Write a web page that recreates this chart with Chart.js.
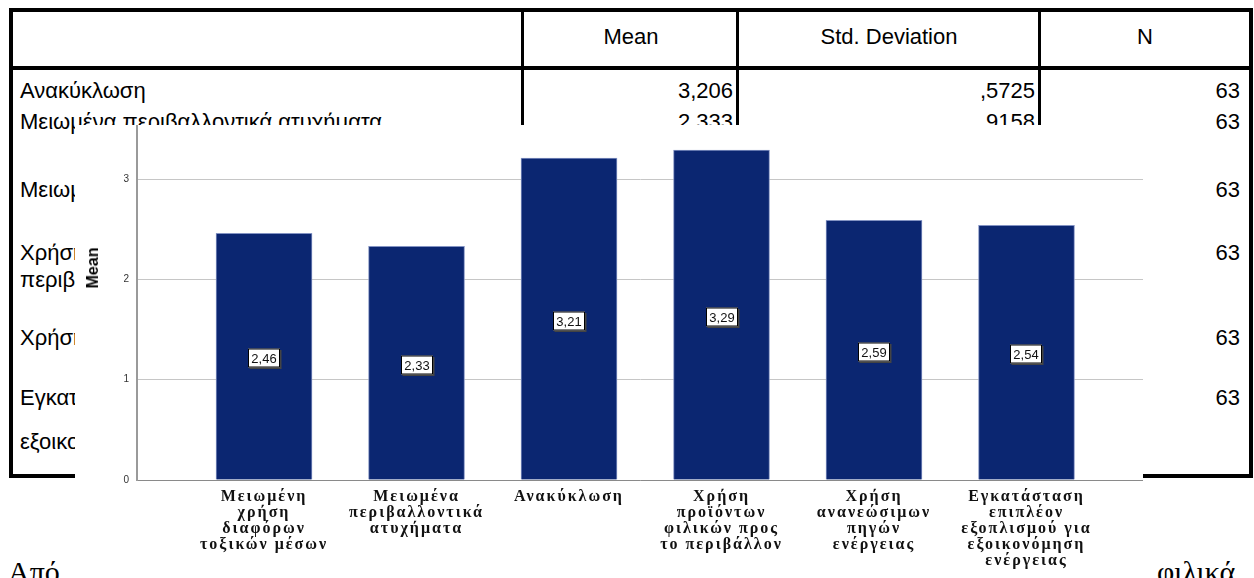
<!DOCTYPE html>
<html lang="el">
<head>
<meta charset="UTF-8">
<title>Mean</title>
<script src="https://cdn.jsdelivr.net/npm/chart.js@4"></script>
<style>
  html, body { margin: 0; padding: 0; background: #fff; }
  #page { position: relative; width: 1254px; height: 578px; overflow: hidden; font-family: "Liberation Sans", Arial, sans-serif; color: #000; }
  .cell { position: absolute; font-size: 22px; line-height: 24px; white-space: nowrap; }
  .line { position: absolute; background: #000; }
  .para { position: absolute; font-family: "Liberation Serif", "Times New Roman", serif; font-size: 30px; line-height: 30px; white-space: nowrap; }
  #overlay { position: absolute; left: 75px; top: 125px; width: 1068px; height: 453px; background: #fff; }
  #chartBox { position: absolute; left: 75px; top: 125px; width: 1068px; height: 453px; }
  #yTitle { position: absolute; left: 93px; top: 268px; transform: translate(-50%, -50%) rotate(-90deg); font-weight: bold; font-size: 16px; white-space: nowrap; }
</style>
</head>
<body>
<div id="page">
  <div id="table"></div>
  <div class="para" style="left:8px; top:557px;">Από</div>
  <div class="para" style="left:1157px; top:557px;">φιλικά</div>
  <div id="overlay"></div>
  <div id="chartBox"><canvas id="chart" width="1068" height="453"></canvas></div>
  <div id="yTitle">Mean</div>
</div>

<script>
// donnees du tableau (en arriere-plan)
const headerCols = ['', 'Mean', 'Std. Deviation', 'N'];
const rowLabels = [
  ['Ανακύκλωση'],
  ['Μειωμένα περιβαλλοντικά ατυχήματα'],
  ['Μειωμένη χρήση διαφόρων τοξικών μέσων'],
  ['Χρήση προϊόντων φιλικών προς το', 'περιβάλλον'],
  ['Χρήση ανανεώσιμων πηγών ενέργειας'],
  ['Εγκατάσταση επιπλέον εξοπλισμού για', 'εξοικονόμηση ενέργειας']
];
const rowMeans = ['3,206', '2,333', '', '', '', ''];
const rowSDs = [',5725', ',9158', '', '', '', ''];
const rowNs = ['63', '63', '63', '63', '63', '63'];

// donnees du graphique
const categories = [
  ['Μειωμένη', 'χρήση', 'διαφόρων', 'τοξικών μέσων'],
  ['Μειωμένα', 'περιβαλλοντικά', 'ατυχήματα'],
  ['Ανακύκλωση'],
  ['Χρήση', 'προϊόντων', 'φιλικών προς', 'το περιβάλλον'],
  ['Χρήση', 'ανανεώσιμων', 'πηγών', 'ενέργειας'],
  ['Εγκατάσταση', 'επιπλέον', 'εξοπλισμού για', 'εξοικονόμηση', 'ενέργειας']
];
const means = [2.46, 2.33, 3.21, 3.29, 2.59, 2.54];
const yTicks = [0, 1, 2, 3];

// --- tableau ---
const table = document.getElementById('table');
function addLine(x, y, w, h) {
  const d = document.createElement('div');
  d.className = 'line';
  d.style.cssText = `left:${x}px;top:${y}px;width:${w}px;height:${h}px;`;
  table.appendChild(d);
}
function addText(txt, y, align, x) {
  const d = document.createElement('div');
  d.className = 'cell';
  d.textContent = txt;
  if (align === 'left') d.style.cssText = `left:${x}px;top:${y - 12}px;`;
  if (align === 'center') d.style.cssText = `left:${x - 200}px;width:400px;text-align:center;top:${y - 12}px;`;
  if (align === 'right') d.style.cssText = `left:${x - 300}px;width:300px;text-align:right;top:${y - 12}px;`;
  table.appendChild(d);
}
// cadre
addLine(9, 8, 1244, 4);
addLine(9, 474, 1244, 4);
addLine(9, 8, 4, 470);
addLine(1249, 8, 4, 470);
addLine(9, 66, 1244, 4);
addLine(521, 8, 3, 470);
addLine(736, 8, 3, 470);
addLine(1038, 8, 3, 470);

const colCenters = [0, 631, 889, 1145];
headerCols.forEach((h, i) => { if (h) addText(h, 37, 'center', colCenters[i]); });

const rowY = [91, 122, 190, 253, 338, 398];
const secondLineGap = [0, 0, 0, 27, 0, 44];
rowLabels.forEach((lines, r) => {
  lines.forEach((t, k) => addText(t, rowY[r] + k * secondLineGap[r], 'left', 20));
  addText(rowMeans[r], rowY[r], 'right', 733);
  addText(rowSDs[r], rowY[r], 'right', 1035);
  addText(rowNs[r], rowY[r], 'right', 1240);
});

// --- graphique ---
const valueLabels = {
  id: 'valueLabels',
  afterDatasetsDraw(chart) {
    const ctx = chart.ctx;
    const meta = chart.getDatasetMeta(0);
    ctx.save();
    ctx.font = '13px "Liberation Sans", Arial, sans-serif';
    ctx.textAlign = 'center';
    ctx.textBaseline = 'middle';
    meta.data.forEach((bar, i) => {
      const txt = means[i].toFixed(2).replace('.', ',');
      const cx = Math.round(bar.x), cy = Math.round((bar.y + bar.base) / 2 + 2);
      const w = 32, h = 19;
      ctx.fillStyle = '#444';
      ctx.fillRect(cx - w / 2 + 1.5, cy - h / 2 + 1.5, w, h);
      ctx.fillStyle = '#fff';
      ctx.fillRect(cx - w / 2, cy - h / 2, w, h);
      ctx.strokeStyle = '#000';
      ctx.lineWidth = 1;
      ctx.strokeRect(cx - w / 2 + 0.5, cy - h / 2 + 0.5, w - 1, h - 1);
      ctx.fillStyle = '#111';
      ctx.fillText(txt, cx, cy + 1);
    });
    ctx.restore();
    // etiquettes de l'axe x espacees
    ctx.letterSpacing = '2px';
  },
  afterDraw(chart) {
    chart.ctx.letterSpacing = '0px';
  }
};

new Chart(document.getElementById('chart').getContext('2d'), {
  type: 'bar',
  data: {
    datasets: [{
      data: means.map((v, i) => ({ x: i, y: v })),
      backgroundColor: '#0b2671',
      borderColor: '#8393c3',
      borderWidth: 1,
      barThickness: 96
    }]
  },
  options: {
    responsive: false,
    animation: false,
    events: [],
    layout: { padding: { top: 1, left: 0, right: 0, bottom: 0 } },
    plugins: { legend: { display: false }, tooltip: { enabled: false } },
    scales: {
      x: {
        type: 'linear',
        offset: false,
        min: -0.833,
        max: 5.764,
        grid: { display: false, drawTicks: false },
        border: { color: '#8a8a8a', width: 1 },
        afterBuildTicks: s => { s.ticks = categories.map((c, i) => ({ value: i })); },
        afterFit: s => { s.height = 98; s.paddingLeft = 0; s.paddingRight = 0; },
        ticks: {
          z: 1,
          autoSkip: false,
          maxRotation: 0,
          padding: 9,
          color: '#111',
          font: { family: '"Liberation Serif", "Times New Roman", serif', size: 16, weight: 'bold', lineHeight: 1 },
          callback: v => categories[v]
        }
      },
      y: {
        min: 0,
        max: 3.53,
        grid: { color: '#c6c6c6', drawTicks: false },
        border: { color: '#9a9a9a', width: 2 },
        afterBuildTicks: s => { s.ticks = yTicks.map(v => ({ value: v })); },
        afterFit: s => { s.width = 62; s.paddingTop = 0; s.paddingBottom = 0; },
        ticks: { padding: 8, color: '#333', font: { family: '"Liberation Sans", Arial, sans-serif', size: 10 } }
      }
    }
  },
  plugins: [valueLabels]
});
</script>
</body>
</html>
